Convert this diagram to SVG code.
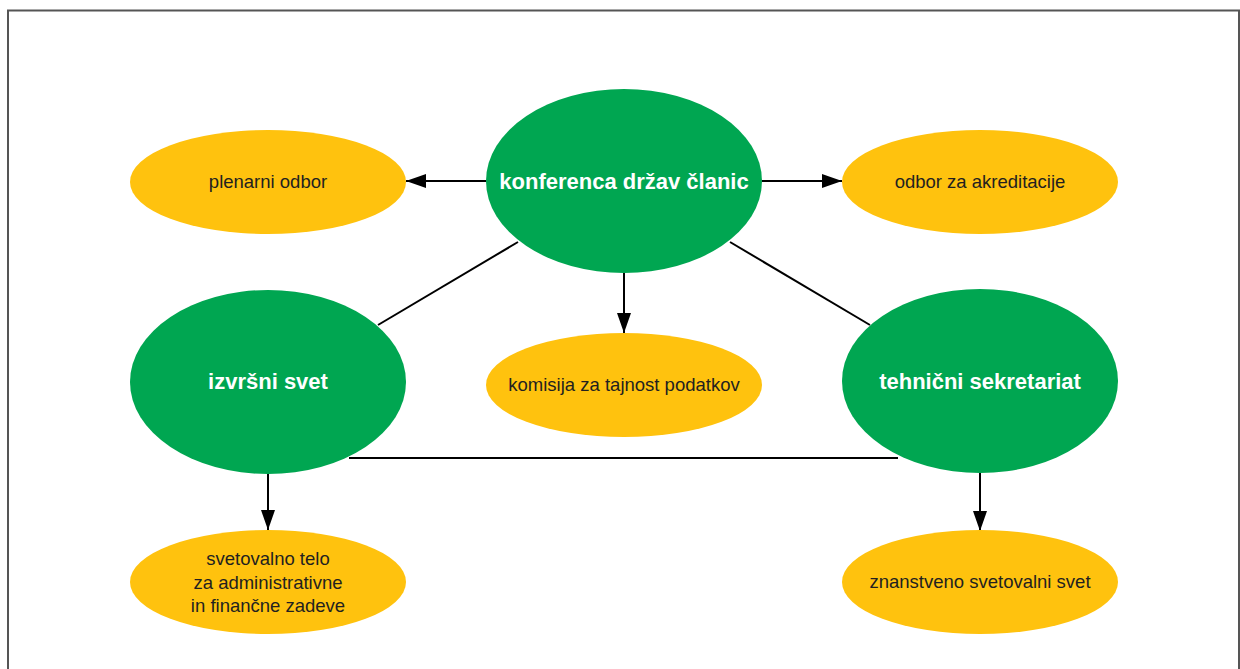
<svg xmlns="http://www.w3.org/2000/svg" width="1240" height="669" viewBox="0 0 1240 669">
<defs>
<style>
.g{fill:#00a651}
.y{fill:#ffc20e}
.tg{font-family:"Liberation Sans",Arial,sans-serif;font-weight:bold;font-size:22px;fill:#fff;text-anchor:middle}
.ty{font-family:"Liberation Sans",Arial,sans-serif;font-size:18.5px;fill:#231f20;text-anchor:middle}
.c{stroke:#000;stroke-width:2;fill:none}
</style>
<marker id="ah" viewBox="0 0 20 14" refX="20" refY="7" markerWidth="20" markerHeight="14" markerUnits="userSpaceOnUse" orient="auto">
<path d="M0,0 L20,7 L0,14 Z" fill="#000"/>
</marker>
</defs>
<rect width="1240" height="669" fill="#fff"/>
<path d="M8,669 V10.5 H1239 V669" fill="none" stroke="#555" stroke-width="2"/>
<g id="connectors">
<line class="c" x1="486" y1="181" x2="406" y2="181" marker-end="url(#ah)"/>
<line class="c" x1="762" y1="181" x2="842" y2="181" marker-end="url(#ah)"/>
<line class="c" x1="624" y1="273" x2="624" y2="333" marker-end="url(#ah)"/>
<line class="c" x1="268" y1="474" x2="268" y2="530" marker-end="url(#ah)"/>
<line class="c" x1="980" y1="473" x2="980" y2="531" marker-end="url(#ah)"/>
<line class="c" x1="518" y1="242" x2="378" y2="325"/>
<line class="c" x1="730" y1="242" x2="870" y2="325"/>
<line class="c" x1="349" y1="458" x2="898" y2="458"/>
</g>
<g id="konferenca">
<ellipse class="g" cx="624" cy="181" rx="138" ry="92"/>
<text class="tg" x="624" y="189">konferenca držav članic</text>
</g>
<g id="plenarni">
<ellipse class="y" cx="268" cy="182" rx="138" ry="52"/>
<text class="ty" x="268" y="188">plenarni odbor</text>
</g>
<g id="akreditacije">
<ellipse class="y" cx="980" cy="182" rx="138" ry="52"/>
<text class="ty" x="980" y="188">odbor za akreditacije</text>
</g>
<g id="izvrsni">
<ellipse class="g" cx="268" cy="382" rx="138" ry="92"/>
<text class="tg" x="268" y="389">izvršni svet</text>
</g>
<g id="komisija">
<ellipse class="y" cx="624" cy="385" rx="138" ry="52"/>
<text class="ty" x="624" y="391">komisija za tajnost podatkov</text>
</g>
<g id="tehnicni">
<ellipse class="g" cx="980" cy="381" rx="138" ry="92"/>
<text class="tg" x="980" y="389">tehnični sekretariat</text>
</g>
<g id="svetovalno">
<ellipse class="y" cx="268" cy="582" rx="138" ry="52"/>
<text class="ty" x="268" y="565">svetovalno telo</text>
<text class="ty" x="268" y="589">za administrativne</text>
<text class="ty" x="268" y="612">in finančne zadeve</text>
</g>
<g id="znanstveno">
<ellipse class="y" cx="980" cy="582" rx="138" ry="52"/>
<text class="ty" x="980" y="588">znanstveno svetovalni svet</text>
</g>
</svg>
